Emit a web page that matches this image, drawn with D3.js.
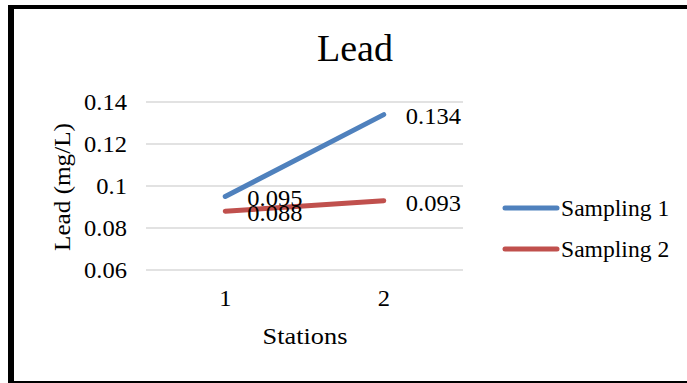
<!DOCTYPE html>
<html><head><meta charset="utf-8">
<script src="https://cdn.jsdelivr.net/npm/d3@7"></script>
<style>html,body{margin:0;padding:0;background:#fff;}svg{display:block;}</style>
</head><body>
<svg id="c" width="687" height="383"></svg>
<script>
const categories = ["1", "2"];
const sampling1 = [0.095, 0.134];
const sampling2 = [0.088, 0.093];
const seriesNames = ["Sampling 1", "Sampling 2"];
const seriesColors = ["#4F81BD", "#C0504D"];
const yTicks = [0.06, 0.08, 0.1, 0.12, 0.14];
const yTickLabels = ["0.06", "0.08", "0.1", "0.12", "0.14"];

const svg = d3.select("#c");
const font = "'Liberation Serif','Times New Roman',serif";
const W = 687, H = 383;
const FS = 22.5, SX = 1.09;
svg.append("rect").attr("width", W).attr("height", H).attr("fill", "#fff");

// border
svg.append("rect").attr("x", 8).attr("y", 5).attr("width", 6).attr("height", 378).attr("fill", "#000");
svg.append("rect").attr("x", 8).attr("y", 5).attr("width", 679).attr("height", 4).attr("fill", "#000");
svg.append("rect").attr("x", 8).attr("y", 381).attr("width", 679).attr("height", 2).attr("fill", "#000");

const x = d3.scaleBand().domain(categories).range([146, 463]);
const y = d3.scaleLinear().domain([0.06, 0.14]).range([270, 102]);

function label(g, tx, ty, txt, opts = {}) {
  const fs = opts.fs || FS, sx = opts.sx || SX;
  const t = g.append("g").attr("transform", `translate(${tx},${ty})${opts.rot ? " rotate(" + opts.rot + ")" : ""} scale(${sx},1)`)
    .append("text").attr("font-family", font).attr("font-size", fs).attr("fill", "#000")
    .attr("text-anchor", opts.anchor || "start").text(txt);
  if (opts.dy) t.attr("dy", opts.dy);
  return t;
}

// gridlines
svg.append("g").selectAll("line").data(yTicks).join("line")
  .attr("x1", 146).attr("x2", 463)
  .attr("y1", d => y(d)).attr("y2", d => y(d))
  .attr("stroke", "#D9D9D9").attr("stroke-width", 1.3);

// y axis labels
const yAxis = d3.axisLeft(y).tickValues(yTicks).tickFormat((d, i) => yTickLabels[i]).tickSize(0).tickPadding(0);
const gy = svg.append("g").attr("transform", "translate(127,0)").call(yAxis);
gy.select(".domain").remove();
gy.selectAll("text").attr("font-family", font).attr("font-size", FS).attr("fill", "#000")
  .attr("dy", "0.33em").attr("transform", `scale(${SX},1)`);

// x axis labels
const xAxis = d3.axisBottom(x).tickSize(0).tickPadding(0);
const gx = svg.append("g").attr("transform", "translate(0,290)").call(xAxis);
gx.select(".domain").remove();
gx.selectAll("text").attr("font-family", font).attr("font-size", FS).attr("fill", "#000")
  .attr("dy", "0.71em").attr("transform", `scale(${SX},1)`);

const cx = d => x(d) + x.bandwidth() / 2;
const series = [sampling1, sampling2];
const line = d3.line().x((d, i) => cx(categories[i])).y(d => y(d));

series.forEach((s, k) => {
  svg.append("path").datum(s).attr("d", line)
    .attr("fill", "none").attr("stroke", seriesColors[k]).attr("stroke-width", 5).attr("stroke-linecap", "round");
});
const dl = svg.append("g");
series.forEach((s, k) => {
  s.forEach((d, i) => {
    label(dl, cx(categories[i]) + 22, y(d) + 2, d3.format(".3f")(d), { dy: "0.35em" });
  });
});

// title
svg.append("text").attr("x", 355).attr("y", 61).attr("text-anchor", "middle")
  .attr("font-family", font).attr("font-size", 38).attr("fill", "#000").text("Lead");

// axis titles
label(svg, 305, 344, "Stations", { anchor: "middle", sx: 1.17 });
label(svg, 70, 187, "Lead (mg/L)", { anchor: "middle", rot: -90, sx: 1.12 });

// legend
const leg = svg.append("g");
seriesNames.forEach((n, k) => {
  const ly = 208 + k * 41;
  leg.append("line").attr("x1", 505).attr("x2", 557).attr("y1", ly).attr("y2", ly)
    .attr("stroke", seriesColors[k]).attr("stroke-width", 5).attr("stroke-linecap", "round");
  label(leg, 561, ly, n, { dy: "0.35em", sx: 1.05 });
});
</script>
</body></html>
